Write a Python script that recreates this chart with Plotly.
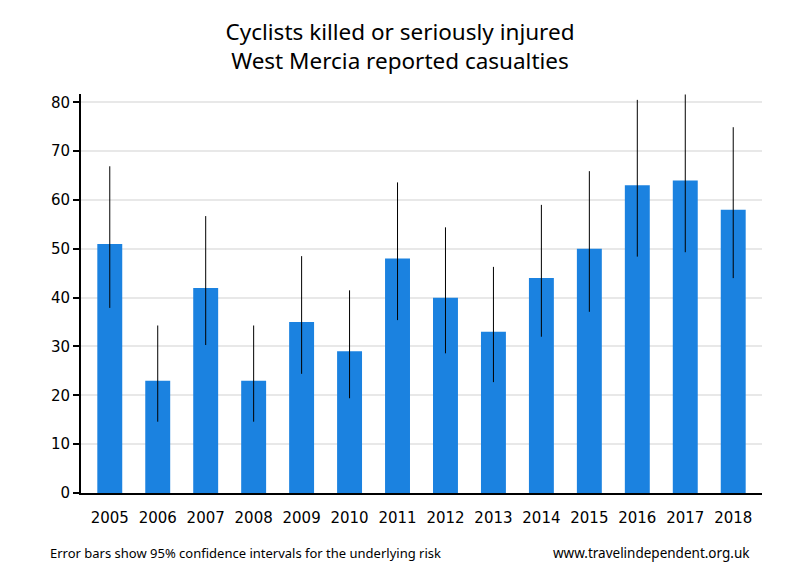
import plotly.graph_objects as go

years = ["2005", "2006", "2007", "2008", "2009", "2010", "2011", "2012", "2013", "2014", "2015", "2016", "2017", "2018"]
casualties = [51, 23, 42, 23, 35, 29, 48, 40, 33, 44, 50, 63, 64, 58]
ci_upper = [66.9, 34.3, 56.7, 34.3, 48.5, 41.5, 63.6, 54.4, 46.3, 59.0, 65.9, 80.5, 81.6, 74.9]
ci_lower = [37.9, 14.6, 30.3, 14.6, 24.4, 19.4, 35.4, 28.6, 22.7, 32.0, 37.1, 48.4, 49.3, 44.0]

err_plus = [u - v for u, v in zip(ci_upper, casualties)]
err_minus = [v - l for v, l in zip(casualties, ci_lower)]

fig = go.Figure()
fig.add_trace(go.Bar(
    x=years, y=casualties,
    marker=dict(color="#1b82e0", line=dict(width=0)),
    width=0.52,
    error_y=dict(type="data", symmetric=False, array=err_plus, arrayminus=err_minus,
                 color="black", thickness=1, width=0),
    cliponaxis=False,
))

fig.update_layout(
    width=800, height=580,
    margin=dict(l=73, r=46, t=86, b=95),
    paper_bgcolor="white", plot_bgcolor="white",
    font=dict(family="DejaVu Sans", size=15, color="black"),
    title=dict(text="Cyclists killed or seriously injured<br>West Mercia reported casualties",
               x=0.49, xanchor="center", y=0.945, yanchor="top",
               font=dict(family="Noto Sans", size=22.5, color="black")),
    showlegend=False,
    xaxis=dict(range=[-0.6, 13.6], showgrid=False, showline=True, linecolor="black", linewidth=2,
               ticks="", tickfont=dict(size=15), ticklabelstandoff=10),
    yaxis=dict(range=[0, 81.7], dtick=10, showgrid=True, gridcolor="#e8e8e8", gridwidth=2,
               showline=True, linecolor="black", linewidth=2, ticks="outside", ticklen=6,
               tickwidth=2, tickcolor="black", zeroline=False, tickfont=dict(size=15)),
    annotations=[
        dict(text="Error bars show 95% confidence intervals for the underlying risk",
             xref="paper", yref="paper", x=-0.0485, y=-0.150, xanchor="left", yanchor="middle",
             showarrow=False, font=dict(family="Noto Sans", size=13, color="black")),
        dict(text="www.travelindependent.org.uk",
             xref="paper", yref="paper", x=0.985, y=-0.150, xanchor="right", yanchor="middle",
             showarrow=False, font=dict(family="Noto Sans", size=13.5, color="black")),
    ],
)

fig.write_html("out.html")
